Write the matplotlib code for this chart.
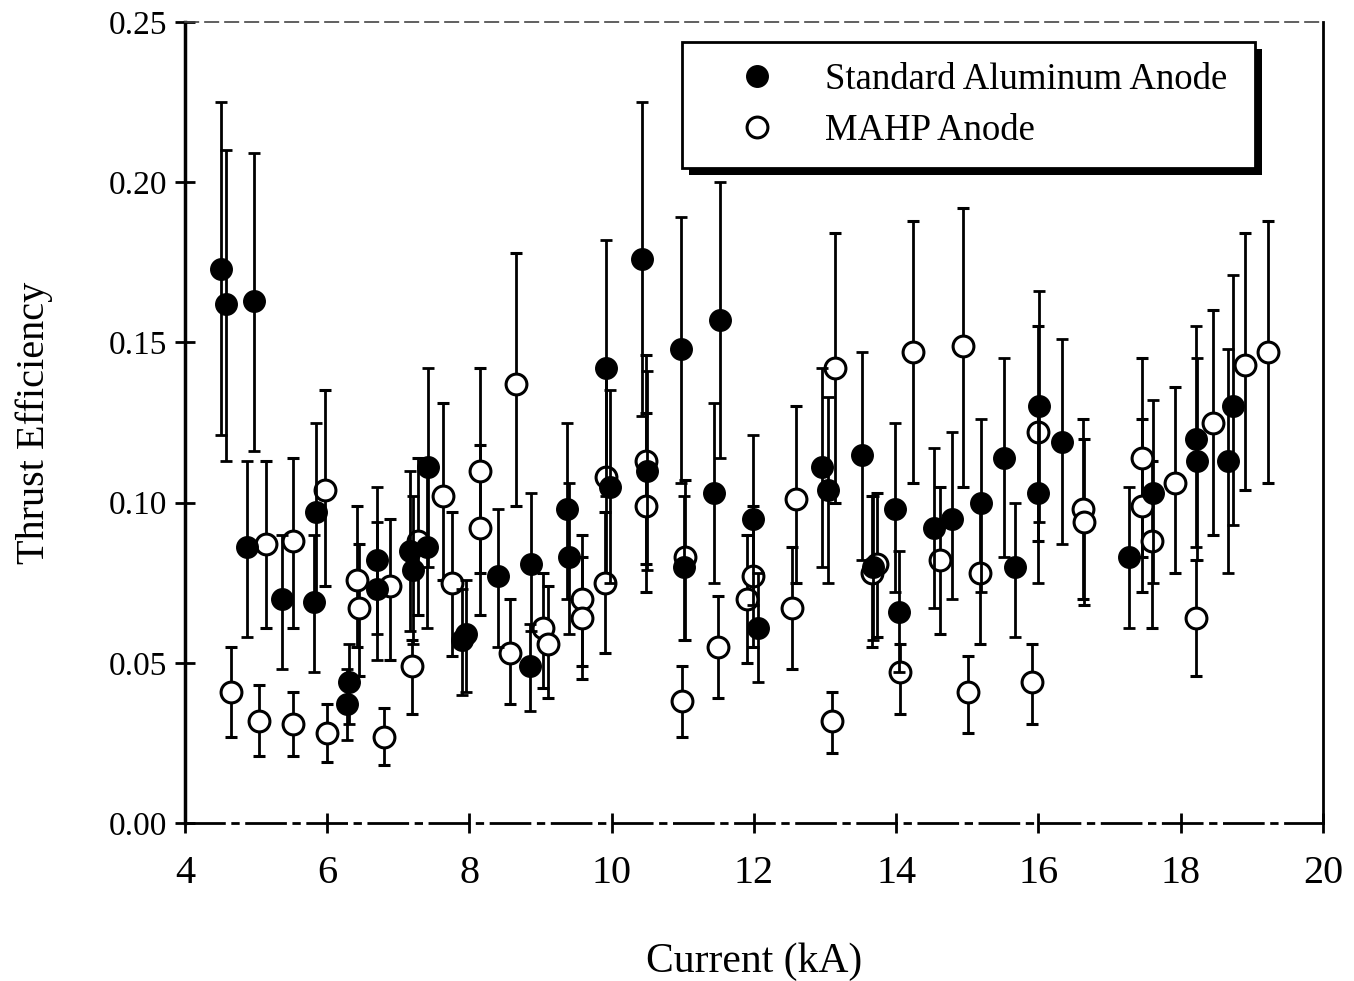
import numpy as np
import matplotlib
matplotlib.use("Agg")
import matplotlib.pyplot as plt
from matplotlib.patches import Rectangle

plt.rcParams["font.family"] = ["Liberation Serif", "DejaVu Serif"]

# Standard aluminum anode (filled)
std_current = [4.51, 4.58, 4.97, 4.87, 5.36, 5.84, 5.82, 6.28, 6.31, 6.70, 6.70,
               7.16, 7.20, 7.40, 7.42, 7.95, 7.90, 8.40, 8.86, 8.85, 9.37, 9.40,
               9.92, 9.97, 10.43, 10.50, 10.97, 11.02, 11.44, 11.52, 11.99, 12.06,
               12.96, 13.04, 13.52, 13.67, 13.98, 14.04, 14.53, 14.78, 15.19, 15.51,
               15.67, 16.01, 15.99, 16.33, 17.27, 17.61, 18.21, 18.23, 18.66, 18.73]
std_eff = [0.173, 0.162, 0.163, 0.086, 0.070, 0.097, 0.069, 0.037, 0.044, 0.082, 0.073,
           0.085, 0.079, 0.086, 0.111, 0.059, 0.057, 0.077, 0.081, 0.049, 0.098, 0.083,
           0.142, 0.105, 0.176, 0.110, 0.148, 0.080, 0.103, 0.157, 0.095, 0.061,
           0.111, 0.104, 0.115, 0.080, 0.098, 0.066, 0.092, 0.095, 0.100, 0.114,
           0.080, 0.130, 0.103, 0.119, 0.083, 0.103, 0.120, 0.113, 0.113, 0.130]
std_hi = [0.225, 0.210, 0.209, 0.113, 0.090, 0.125, 0.090, 0.048, 0.056, 0.105, 0.094,
          0.110, 0.102, 0.111, 0.142, 0.076, 0.073, 0.098, 0.103, 0.062, 0.125, 0.106,
          0.182, 0.135, 0.225, 0.141, 0.189, 0.102, 0.131, 0.200, 0.121, 0.078,
          0.142, 0.133, 0.147, 0.102, 0.125, 0.085, 0.117, 0.122, 0.126, 0.145,
          0.100, 0.166, 0.132, 0.151, 0.105, 0.132, 0.155, 0.145, 0.148, 0.171]
std_lo = [0.121, 0.113, 0.116, 0.058, 0.048, 0.070, 0.047, 0.026, 0.031, 0.059, 0.051,
          0.060, 0.056, 0.061, 0.080, 0.041, 0.040, 0.055, 0.060, 0.035, 0.070, 0.059,
          0.102, 0.075, 0.127, 0.079, 0.106, 0.057, 0.075, 0.114, 0.068, 0.044,
          0.080, 0.075, 0.082, 0.057, 0.072, 0.047, 0.067, 0.070, 0.072, 0.083,
          0.058, 0.094, 0.075, 0.087, 0.061, 0.075, 0.086, 0.082, 0.078, 0.093]

# MAHP anode (open)
mahp_current = [4.65, 5.04, 5.14, 5.52, 5.52, 5.97, 6.00, 6.42, 6.45, 6.80, 6.88,
                7.19, 7.28, 7.63, 7.75, 8.15, 8.15, 8.57, 8.65, 9.03, 9.10, 9.58,
                9.58, 9.90, 9.92, 10.48, 10.48, 10.99, 11.03, 11.49, 11.90, 11.99,
                12.53, 12.59, 13.10, 13.14, 13.66, 13.73, 14.05, 14.24, 14.62, 14.94,
                15.01, 15.18, 15.91, 15.99, 16.63, 16.64, 17.45, 17.45, 17.60, 17.92,
                18.21, 18.45, 18.90, 19.23]
mahp_eff = [0.041, 0.032, 0.087, 0.088, 0.031, 0.104, 0.028, 0.076, 0.067, 0.027, 0.074,
            0.049, 0.088, 0.102, 0.075, 0.110, 0.092, 0.053, 0.137, 0.061, 0.056, 0.070,
            0.064, 0.075, 0.108, 0.113, 0.099, 0.038, 0.083, 0.055, 0.070, 0.077,
            0.067, 0.101, 0.032, 0.142, 0.078, 0.081, 0.047, 0.147, 0.082, 0.149,
            0.041, 0.078, 0.044, 0.122, 0.098, 0.094, 0.114, 0.099, 0.088, 0.106,
            0.064, 0.125, 0.143, 0.147]
mahp_hi = [0.055, 0.043, 0.113, 0.114, 0.041, 0.135, 0.037, 0.099, 0.087, 0.036, 0.095,
           0.057, 0.114, 0.131, 0.097, 0.142, 0.118, 0.070, 0.178, 0.078, 0.074, 0.090,
           0.083, 0.097, 0.140, 0.146, 0.128, 0.049, 0.107, 0.071, 0.090, 0.099,
           0.086, 0.130, 0.041, 0.184, 0.102, 0.103, 0.056, 0.188, 0.105, 0.192,
           0.052, 0.100, 0.056, 0.155, 0.126, 0.120, 0.145, 0.126, 0.113, 0.136,
           0.082, 0.160, 0.184, 0.188]
mahp_lo = [0.027, 0.021, 0.061, 0.061, 0.021, 0.074, 0.019, 0.055, 0.046, 0.018, 0.051,
           0.034, 0.065, 0.076, 0.052, 0.078, 0.065, 0.037, 0.099, 0.042, 0.039, 0.049,
           0.045, 0.053, 0.075, 0.081, 0.072, 0.027, 0.057, 0.039, 0.050, 0.055,
           0.048, 0.075, 0.022, 0.100, 0.055, 0.058, 0.034, 0.106, 0.059, 0.105,
           0.028, 0.056, 0.031, 0.088, 0.070, 0.068, 0.083, 0.072, 0.061, 0.078,
           0.046, 0.090, 0.104, 0.106]

x_ticks = [4, 6, 8, 10, 12, 14, 16, 18, 20]
y_ticks = [0.00, 0.05, 0.10, 0.15, 0.20, 0.25]


def err(vals, hi, lo):
    vals = np.array(vals)
    return [vals - np.array(lo), np.array(hi) - vals]


fig = plt.figure(figsize=(13.54, 9.81), dpi=100)
ax = fig.add_axes([0.1366, 0.161, 0.8404, 0.8166])

ax.errorbar(std_current, std_eff, yerr=err(std_eff, std_hi, std_lo), fmt="o",
            color="black", ms=15.5, elinewidth=2, capsize=4.5, capthick=2,
            label="Standard Aluminum Anode", zorder=3)
ax.errorbar(mahp_current, mahp_eff, yerr=err(mahp_eff, mahp_hi, mahp_lo), fmt="o",
            color="black", mfc="white", mec="black", mew=2.2, ms=15, elinewidth=2,
            capsize=4.5, capthick=2, label="MAHP Anode", zorder=2)

ax.set_xlim(4, 20)
ax.set_ylim(0, 0.25)
ax.set_xticks(x_ticks)
ax.set_yticks(y_ticks)
ax.set_yticklabels([f"{v:.2f}" for v in y_ticks])
ax.tick_params(direction="inout", length=14, width=2)
ax.tick_params(axis="x", labelsize=29, pad=16)
ax.tick_params(axis="y", labelsize=24, pad=6)

ax.spines["left"].set_linewidth(2.5)
ax.spines["right"].set_linewidth(2)
ax.spines["bottom"].set_linewidth(2)
ax.spines["bottom"].set_linestyle((0, (14, 3, 2, 3)))
ax.spines["top"].set_linestyle((0, (8, 4)))
ax.spines["top"].set_linewidth(1.2)
ax.spines["top"].set_color("#444444")

ax.set_xlabel("Current (kA)", fontsize=30, labelpad=36)
ax.set_ylabel("Thrust Efficiency", fontsize=29, labelpad=40)

handles, labels = ax.get_legend_handles_labels()
handles = [h[0] for h in handles]
leg = ax.legend(handles, labels, loc="upper left", mode="expand",
                bbox_to_anchor=(0.4367, 0.0, 0.5035, 0.975),
                fontsize=26.5, frameon=True, fancybox=False, borderpad=0.55,
                handlelength=3.0, handletextpad=0.35, labelspacing=0.45,
                borderaxespad=0, markerscale=1.0)
leg.get_frame().set_edgecolor("black")
leg.get_frame().set_linewidth(2)
leg.get_frame().set_alpha(1)
leg.set_zorder(10)

# heavy drop shadow under the legend box
fig.canvas.draw()
bb = leg.get_frame().get_window_extent().transformed(fig.transFigure.inverted())
dx, dy = 7 / fig.bbox.width, 7 / fig.bbox.height
fig.patches.append(Rectangle((bb.x0 + dx, bb.y0 - dy), bb.width, bb.height,
                             transform=fig.transFigure, facecolor="black",
                             edgecolor="none", zorder=0))
ax.set_zorder(1)
ax.patch.set_alpha(0)

fig.savefig("out.png", dpi=100)
